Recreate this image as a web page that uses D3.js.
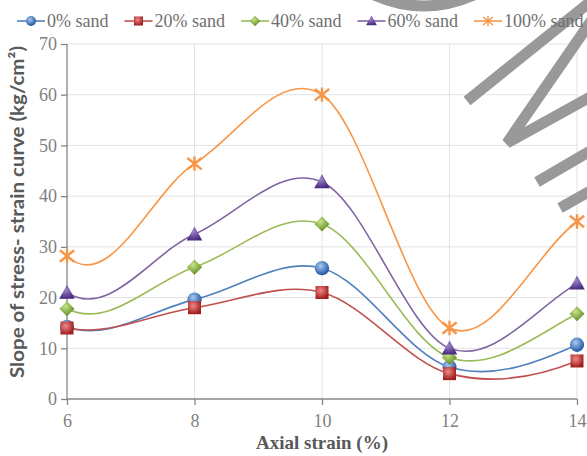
<!DOCTYPE html>
<html>
<head>
<meta charset="utf-8">
<script src="https://cdn.jsdelivr.net/npm/d3@7"></script>
<style>
  body { margin: 0; background: #fff; }
  svg { display: block; }
</style>
</head>
<body>
<svg id="chart" width="587" height="456"></svg>
<script>
// data
const strains = [6, 8, 10, 12, 14];
const sand0 = [14.2, 19.6, 25.8, 6.3, 10.7];
const sand20 = [14.0, 18.0, 21.0, 5.0, 7.5];
const sand40 = [17.8, 26.0, 34.5, 8.2, 16.8];
const sand60 = [21.0, 32.5, 42.8, 10.0, 22.8];
const sand100 = [28.2, 46.4, 60.0, 14.0, 35.0];
const seriesNames = ["0% sand", "20% sand", "40% sand", "60% sand", "100% sand"];
const yTicks = [0, 10, 20, 30, 40, 50, 60, 70];
const xTicks = [6, 8, 10, 12, 14];

const series = [
  { name: seriesNames[0], values: sand0, line: "#4f81bd", light: "#a9c8f0", dark: "#1f56a0", marker: "circle" },
  { name: seriesNames[1], values: sand20, line: "#c0504d", light: "#ef8a86", dark: "#a01c1e", marker: "square" },
  { name: seriesNames[2], values: sand40, line: "#9bbb59", light: "#c8e38a", dark: "#5e8c20", marker: "diamond" },
  { name: seriesNames[3], values: sand60, line: "#8064a2", light: "#9f86c8", dark: "#4a2a80", marker: "triangle" },
  { name: seriesNames[4], values: sand100, line: "#f79646", light: "#f9b27a", dark: "#e07b2a", marker: "star" },
];

const svg = d3.select("#chart");
const x = d3.scaleLinear().domain([6, 14]).range([67, 577]);
const y = d3.scaleLinear().domain([0, 70]).range([399, 44]);

const serif = "'Liberation Serif', 'Times New Roman', serif";

// marker gradients
const defs = svg.append("defs");
series.forEach((s, i) => {
  const g = defs.append("radialGradient")
    .attr("id", "grad" + i)
    .attr("cx", "40%").attr("cy", "35%").attr("r", "65%");
  g.append("stop").attr("offset", "0%").attr("stop-color", s.light);
  g.append("stop").attr("offset", "100%").attr("stop-color", s.dark);
});

// grid
svg.append("g")
  .selectAll("line")
  .data(yTicks.filter((d) => d > 0))
  .join("line")
  .attr("x1", x(6)).attr("x2", x(14))
  .attr("y1", (d) => y(d)).attr("y2", (d) => y(d))
  .attr("stroke", "#e2e2e2").attr("stroke-width", 1);

svg.append("g")
  .selectAll("line")
  .data(xTicks.filter((d) => d > 6))
  .join("line")
  .attr("x1", (d) => x(d)).attr("x2", (d) => x(d))
  .attr("y1", y(0)).attr("y2", y(70))
  .attr("stroke", "#e2e2e2").attr("stroke-width", 1);

// axes
const yAxis = svg.append("g")
  .attr("transform", `translate(${x(6)},0)`)
  .call(d3.axisLeft(y).tickValues(yTicks).tickSize(6).tickPadding(4));
const xAxis = svg.append("g")
  .attr("transform", `translate(0,${y(0)})`)
  .call(d3.axisBottom(x).tickValues(xTicks).tickSize(6).tickPadding(9));

[yAxis, xAxis].forEach((a) => {
  a.select(".domain").attr("stroke", "#868686").attr("stroke-width", 1.3);
  a.selectAll(".tick line").attr("stroke", "#868686").attr("stroke-width", 1.3);
  a.selectAll(".tick text")
    .attr("fill", "#7f7f7f")
    .style("font-family", serif)
    .style("font-size", "18px");
});
// remove outer end stubs added by d3 to the domain path
yAxis.select(".domain").attr("d", `M0,${y(70)}V${y(0)}`);
xAxis.select(".domain").attr("d", `M${x(6)},0H${x(14)}`);

// watermark shapes (decoration)
const wm = svg.append("g")
  .attr("fill", "none")
  .attr("stroke", "#999")
  .attr("stroke-width", 11)
  .attr("stroke-linecap", "butt");
wm.append("path").attr("d", "M372,-6 Q424,18 476,-6");
wm.append("path").attr("d", "M467,101 L600,-6");
wm.append("path").attr("d", "M596,14 L507,143 L592,96");
wm.append("path").attr("d", "M537,182 L592,150");
wm.append("path").attr("d", "M560,208 L592,190");

// smooth curve similar to Excel's smoothed line
function smoothPath(pts) {
  const n = pts.length;
  const t = pts.map((p, i) =>
    i > 0 && i < n - 1
      ? [(pts[i + 1][0] - pts[i - 1][0]) / 2, (pts[i + 1][1] - pts[i - 1][1]) / 2]
      : null
  );
  const K = 1.5;
  t[0] = [pts[1][0] - pts[0][0], -K * t[1][1]];
  t[n - 1] = [pts[n - 1][0] - pts[n - 2][0], -K * t[n - 2][1]];
  const p = d3.path();
  p.moveTo(pts[0][0], pts[0][1]);
  for (let i = 0; i < n - 1; i++) {
    p.bezierCurveTo(
      pts[i][0] + t[i][0] / 3, pts[i][1] + t[i][1] / 3,
      pts[i + 1][0] - t[i + 1][0] / 3, pts[i + 1][1] - t[i + 1][1] / 3,
      pts[i + 1][0], pts[i + 1][1]
    );
  }
  return p.toString();
}

function drawMarker(g, type, i, size, color) {
  const fill = `url(#grad${i})`;
  if (type === "circle") {
    g.append("circle").attr("r", size * 0.55).attr("fill", fill);
  } else if (type === "square") {
    g.append("rect").attr("x", -size / 2).attr("y", -size / 2)
      .attr("width", size).attr("height", size).attr("fill", fill);
  } else if (type === "diamond") {
    const h = size * 0.58;
    g.append("path").attr("d", `M0,${-h}L${h},0L0,${h}L${-h},0Z`).attr("fill", fill);
  } else if (type === "triangle") {
    const h = size * 0.6;
    g.append("path").attr("d", `M0,${-h}L${h},${h * 0.8}L${-h},${h * 0.8}Z`).attr("fill", fill);
  } else {
    const h = size * 0.55;
    g.append("path")
      .attr("d", `M0,${-h}V${h}M${-h},${-h * 0.8}L${h},${h * 0.8}M${-h},${h * 0.8}L${h},${-h * 0.8}`)
      .attr("stroke", color).attr("stroke-width", size > 10 ? 2.4 : 1.4).attr("fill", "none");
  }
}

// lines
series.forEach((s) => {
  const pts = strains.map((d, j) => [x(d), y(s.values[j])]);
  svg.append("path")
    .attr("d", smoothPath(pts))
    .attr("fill", "none")
    .attr("stroke", s.line)
    .attr("stroke-width", 1.6);
});

// markers
series.forEach((s, i) => {
  svg.append("g")
    .selectAll("g")
    .data(strains)
    .join("g")
    .attr("transform", (d, j) => `translate(${x(d)},${y(s.values[j])})`)
    .each(function () {
      drawMarker(d3.select(this), s.marker, i, 13, s.line);
    });
});

// legend
const legend = svg.append("g").attr("transform", "translate(0,21)");
let lx = 17;
series.forEach((s, i) => {
  const item = legend.append("g").attr("transform", `translate(${lx},0)`);
  item.append("line").attr("x1", 0).attr("x2", 28).attr("stroke", s.line).attr("stroke-width", 1.6);
  const m = item.append("g").attr("transform", "translate(14,0)");
  drawMarker(m, s.marker, i, 9, s.line);
  const txt = item.append("text")
    .attr("x", 30).attr("y", 6)
    .attr("fill", "#6f6f6f")
    .style("font-family", serif)
    .style("font-size", "18px")
    .text(s.name);
  lx += 30 + txt.node().getComputedTextLength() + 16;
});

// axis titles
svg.append("text")
  .attr("x", 322).attr("y", 449)
  .attr("text-anchor", "middle")
  .attr("fill", "#595959")
  .style("font-family", serif)
  .style("font-weight", "bold")
  .style("font-size", "19px")
  .text("Axial strain (%)");

svg.append("text")
  .attr("transform", "translate(24,212) rotate(-90)")
  .attr("text-anchor", "middle")
  .attr("fill", "#595959")
  .attr("textLength", 332)
  .attr("lengthAdjust", "spacingAndGlyphs")
  .style("font-family", "Lato, 'Open Sans', sans-serif")
  .style("font-weight", "bold")
  .style("font-size", "19px")
  .text("Slope of stress- strain curve (kg/cm²)");
</script>
</body>
</html>
